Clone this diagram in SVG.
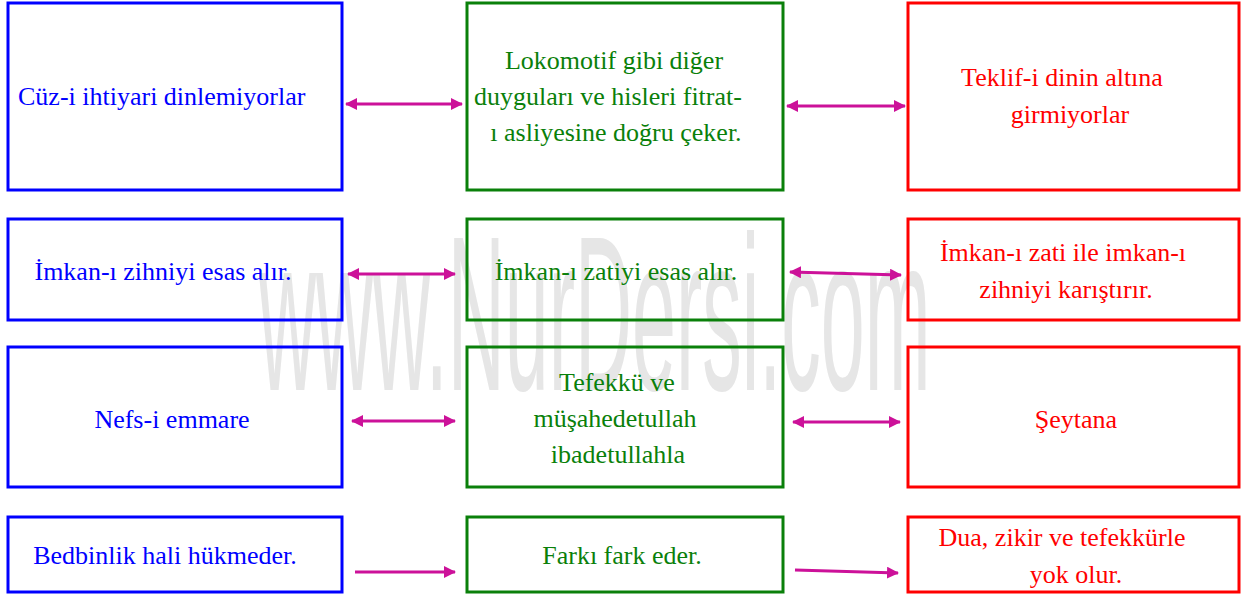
<svg xmlns="http://www.w3.org/2000/svg" width="1242" height="599" viewBox="0 0 1242 599">
<defs>
<style>
.bx{fill:none;stroke-width:3}
.b{stroke:#0000ff}.g{stroke:#0a800a}.r{stroke:#ff0000}
text{font-family:"Liberation Serif","Times New Roman",serif;font-size:26px}
.tb{fill:#0000ff}.tg{fill:#0a800a}.tr{fill:#ff0000}
.c{text-anchor:middle}
.ar{stroke:#cc1199;stroke-width:3;fill:none}
.wm{font-family:"Liberation Sans",Arial,sans-serif;font-size:79px;fill:#e6e6e6}
</style>
<marker id="ah" viewBox="0 0 12 12" refX="11" refY="6" markerWidth="12" markerHeight="12" markerUnits="userSpaceOnUse" orient="auto-start-reverse">
<path d="M0,0 L12,6 L0,12 z" fill="#cc1199"/>
</marker>
</defs>
<rect width="1242" height="599" fill="#ffffff"/>
<text class="wm" transform="translate(259,390) scale(1,2.8)">www.NurDersi.com</text>

<g id="n-b1"><rect class="bx b" x="8" y="3" width="334" height="187"/><text class="tb" x="18" y="105">Cüz-i ihtiyari dinlemiyorlar</text></g>
<g id="n-g1"><rect class="bx g" x="467" y="3" width="316" height="187"/>
<text class="tg c" x="614" y="69">Lokomotif gibi diğer</text>
<text class="tg c" x="608" y="105">duyguları ve hisleri fitrat-</text>
<text class="tg c" x="616" y="141">ı asliyesine doğru çeker.</text></g>
<g id="n-r1"><rect class="bx r" x="908" y="3" width="331" height="187"/>
<text class="tr c" x="1062" y="86">Teklif-i dinin altına</text>
<text class="tr c" x="1070" y="123">girmiyorlar</text></g>

<g id="n-b2"><rect class="bx b" x="8" y="219" width="334" height="101"/><text class="tb c" x="163" y="280">İmkan-ı zihniyi esas alır.</text></g>
<g id="n-g2"><rect class="bx g" x="467" y="219" width="316" height="101"/><text class="tg c" x="616" y="280">İmkan-ı zatiyi esas alır.</text></g>
<g id="n-r2"><rect class="bx r" x="908" y="219" width="331" height="101"/>
<text class="tr c" x="1063" y="261">İmkan-ı zati ile imkan-ı</text>
<text class="tr c" x="1066" y="298">zihniyi karıştırır.</text></g>

<g id="n-b3"><rect class="bx b" x="8" y="347" width="334" height="140"/><text class="tb c" x="172" y="428">Nefs-i emmare</text></g>
<g id="n-g3"><rect class="bx g" x="467" y="347" width="316" height="140"/>
<text class="tg c" x="617" y="391">Tefekkü ve</text>
<text class="tg c" x="615" y="427">müşahedetullah</text>
<text class="tg c" x="618" y="463">ibadetullahla</text></g>
<g id="n-r3"><rect class="bx r" x="908" y="347" width="331" height="140"/><text class="tr c" x="1076" y="428">Şeytana</text></g>

<g id="n-b4"><rect class="bx b" x="8" y="517" width="334" height="75"/><text class="tb c" x="165" y="564">Bedbinlik hali hükmeder.</text></g>
<g id="n-g4"><rect class="bx g" x="467" y="517" width="316" height="75"/><text class="tg c" x="622" y="564">Farkı fark eder.</text></g>
<g id="n-r4"><rect class="bx r" x="908" y="517" width="331" height="75"/>
<text class="tr c" x="1062" y="546">Dua, zikir ve tefekkürle</text>
<text class="tr c" x="1076" y="583">yok olur.</text></g>

<g id="connectors">
<line class="ar" x1="346" y1="104" x2="462" y2="104" marker-start="url(#ah)" marker-end="url(#ah)"/>
<line class="ar" x1="787" y1="106" x2="905" y2="106" marker-start="url(#ah)" marker-end="url(#ah)"/>
<line class="ar" x1="348" y1="274" x2="455" y2="274" marker-start="url(#ah)" marker-end="url(#ah)"/>
<line class="ar" x1="790" y1="272" x2="901" y2="275" marker-start="url(#ah)" marker-end="url(#ah)"/>
<line class="ar" x1="352" y1="421" x2="455" y2="421" marker-start="url(#ah)" marker-end="url(#ah)"/>
<line class="ar" x1="793" y1="422" x2="900" y2="422" marker-start="url(#ah)" marker-end="url(#ah)"/>
<line class="ar" x1="355" y1="572" x2="455" y2="572" marker-end="url(#ah)"/>
<line class="ar" x1="795" y1="570" x2="898" y2="573" marker-end="url(#ah)"/>
</g>
</svg>
